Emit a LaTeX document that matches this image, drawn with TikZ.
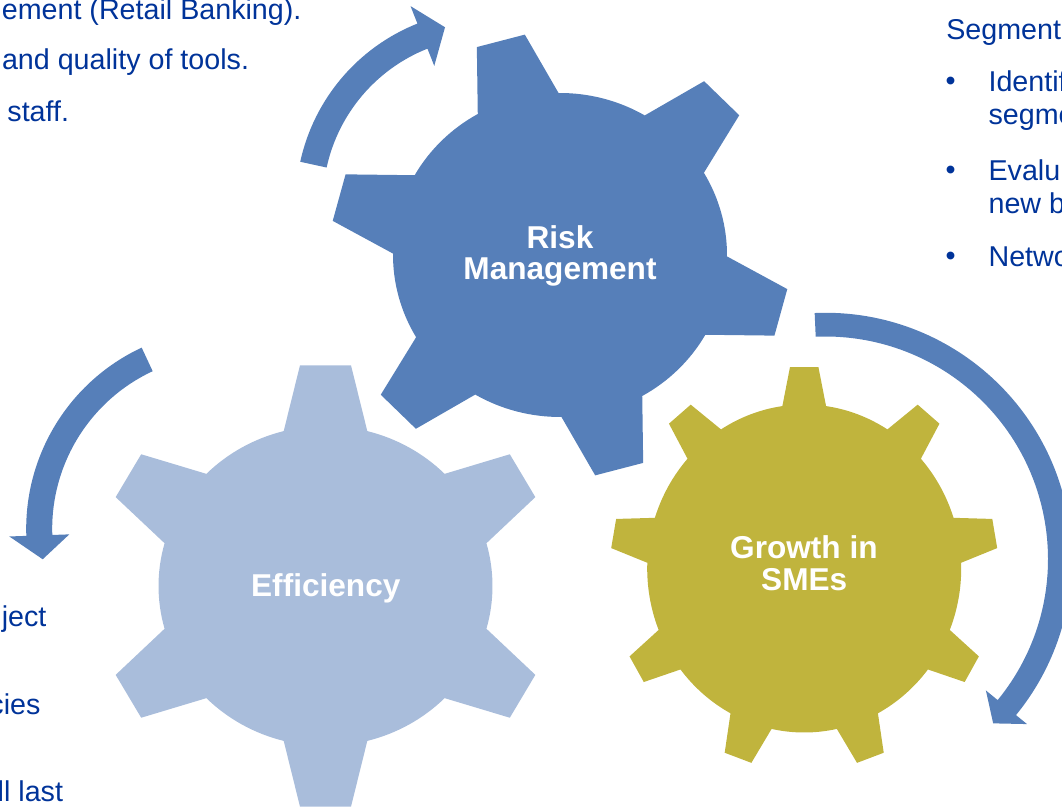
\documentclass[tikz,border=0pt]{standalone}
\usepackage{fontspec}
\setmainfont{Liberation Sans}
\definecolor{riskblue}{RGB}{86,127,185}
\definecolor{efflight}{RGB}{169,189,219}
\definecolor{growthol}{RGB}{192,180,61}
\definecolor{txtblue}{RGB}{0,51,153}
% gear: #1 colour, #2 teeth, #3 first tooth angle, #4 rx, #5 ry, #6 tip rx, #7 tip ry, #8 base half angle, #9 tip half angle
\newcommand\gearshape[9]{%
  \pgfmathsetmacro\gst{360/#2}%
  \pgfmathtruncatemacro\gnm{#2-1}%
  \fill[#1] ({#3-#8}:#4 and #5)
  \foreach \k [evaluate=\k as \t using {#3+\k*\gst}] in {0,...,\gnm}{
    -- ({\t-#9}:#6 and #7) -- ({\t+#9}:#6 and #7) -- ({\t+#8}:#4 and #5)
    arc[start angle={\t+#8}, end angle={\t+\gst-#8}, x radius=#4, y radius=#5]
  } -- cycle;}
% circular arrow: #1 tail angle, #2 head angle, #3 inner r, #4 outer r, #5 head inner r, #6 head outer r, #7 tip angle, #8 tip r
\newcommand\circarrow[8]{%
  \fill[riskblue] ({#1}:#4) arc[start angle=#1, end angle=#2, radius=#4]
    -- ({#2}:#6) -- ({#7}:#8) -- ({#2}:#5) -- ({#2}:#3)
    arc[start angle=#2, end angle=#1, radius=#3] -- cycle;}
\tikzset{
  gearlabel/.style={font=\fontsize{23.7}{24}\selectfont\bfseries, text=white, anchor=base, inner sep=0pt},
  sidetext/.style={font=\fontsize{21.5}{26}\selectfont, text=txtblue, inner sep=0pt},
}
\begin{document}
\begin{tikzpicture}[x=0.75pt,y=0.75pt]
\useasboundingbox (0,0) rectangle (1062,809);
\clip (0,0) rectangle (1062,809);
\coordinate (riskc) at (560,554);
\coordinate (effc) at (325.5,223);
\coordinate (growc) at (804.2,240.5);
\coordinate (arrAc) at (488.8,606.1);
\coordinate (arrBc) at (226.2,280.1);
\coordinate (arrCc) at (825.4,249.9);

% gears
\begin{scope}[shift={(riskc)}]
  \gearshape{riskblue}{6}{105}{167}{162}{230}{223}{14.5}{6.2}
\end{scope}
\begin{scope}[shift={(effc)}]
  \gearshape{efflight}{6}{90}{167}{160}{229}{222}{14.5}{6.4}
\end{scope}
\begin{scope}[shift={(growc)}]
  \gearshape{growthol}{9}{90}{157}{164}{194}{202}{8}{4.2}
\end{scope}

% arrows
\begin{scope}[shift={(arrAc)}]
  \circarrow{167.7}{111.7}{166}{193}{147.5}{211.8}{104}{181}
\end{scope}
\begin{scope}[shift={(arrBc)}]
  \circarrow{115}{182}{174}{200}{157}{217}{189.4}{186}
\end{scope}
\begin{scope}[shift={(arrCc)}]
  \circarrow{92.5}{-39.3}{222.6}{246.3}{207.4}{260.5}{-44.4}{234.8}
\end{scope}

% gear labels
\node[gearlabel] (risk1) at (560,560.7) {Risk};
\node[gearlabel] (risk2) at (560,529) {Management};
\node[gearlabel] (eff) at (325.8,212.3) {Efficiency};
\node[gearlabel] (grow1) at (803.9,250) {Growth in};
\node[gearlabel] (grow2) at (804.2,218) {SMEs};

% top-left text
\node[sidetext, anchor=base east] (tl1) at (301.7,789) {ement (Retail Banking).};
\node[sidetext, anchor=base east] (tl2) at (249.3,739) {and quality of tools.};
\node[sidetext, anchor=base east] (tl3) at (69.3,687.3) {staff.};

% top-right text
\node[sidetext, anchor=base west] (tr0) at (946,769.7) {Segment};
\node[sidetext, anchor=base west] (b1) at (945.3,718.5) {•};
\node[sidetext, anchor=base west] (tr1) at (988.3,717.5) {Identif};
\node[sidetext, anchor=base west] (tr2) at (988.3,684.5) {segme};
\node[sidetext, anchor=base west] (b2) at (945.3,629.5) {•};
\node[sidetext, anchor=base west] (tr3) at (988.3,628.5) {Evalu};
\node[sidetext, anchor=base west] (tr4) at (988.3,595.5) {new b};
\node[sidetext, anchor=base west] (b3) at (945.3,543) {•};
\node[sidetext, anchor=base west] (tr5) at (988.3,542) {Netwo};

% bottom-left text
\node[sidetext, anchor=base east] (bl1) at (46.7,182.3) {ject};
\node[sidetext, anchor=base east] (bl2) at (40.7,94) {cies};
\node[sidetext, anchor=base east] (bl3) at (63.3,7.3) {ll last};
\end{tikzpicture}
\end{document}
